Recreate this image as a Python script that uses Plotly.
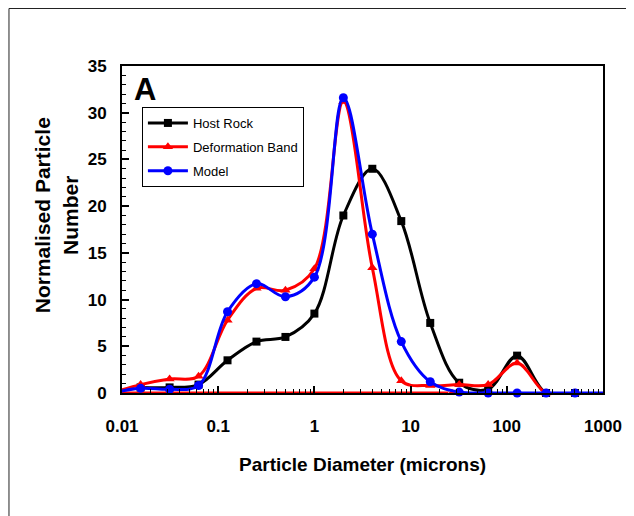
import plotly.graph_objects as go

# Data (phi-class particle diameters, microns)
diam = [0.0078, 0.0156, 0.03125, 0.0625, 0.125, 0.25, 0.5, 1, 2, 4, 8, 16, 32, 64, 128, 256, 512]
host_rock = [None, 0.6, 0.6, 0.9, 3.5, 5.5, 6.0, 8.5, 19.0, 24.0, 18.4, 7.5, 1.1, 0.4, 4.0, 0.0, 0.0]
deformation_band = [0.0, 0.9, 1.5, 1.8, 7.8, 11.2, 11.0, 13.3, 31.2, 13.4, 1.3, 0.8, 0.9, 0.9, 3.2, 0.0, 0.0]
model = [0.0, 0.5, 0.4, 0.8, 8.7, 11.7, 10.3, 12.4, 31.6, 17.0, 5.5, 1.2, 0.1, 0.0, 0.0, 0.0, 0.0]

# Zero-level artefact lines drawn along the axis in the original
red_base_x = [0.0078, 27, 32]
red_base_y = [0, 0, 0]
blue_base_x = [512, 1400]
blue_base_y = [0, 0]

x_ticks = [0.01, 0.1, 1, 10, 100, 1000]
x_ticklabels = ["0.01", "0.1", "1", "10", "100", "1000"]

FONT = "Arial, Liberation Sans, sans-serif"

fig = go.Figure()

fig.add_trace(go.Scatter(
    x=red_base_x, y=red_base_y, mode="lines+markers", showlegend=False,
    line=dict(color="#ff0000", width=3),
    marker=dict(symbol=["triangle-up-open", "triangle-up", "triangle-up"], size=[1, 10, 10], color="#ff0000"),
    cliponaxis=False, hoverinfo="skip"))

fig.add_trace(go.Scatter(
    x=blue_base_x, y=blue_base_y, mode="lines", showlegend=False,
    line=dict(color="#0000ff", width=3), hoverinfo="skip"))

fig.add_trace(go.Scatter(
    x=diam, y=host_rock, name="Host Rock", mode="lines+markers",
    line=dict(color="#000000", width=3, shape="spline", smoothing=1),
    marker=dict(symbol="square", size=8, color="#000000"),
    connectgaps=False, cliponaxis=False, legendgroup="a"))

fig.add_trace(go.Scatter(
    x=diam, y=deformation_band, name="Deformation Band", mode="lines+markers",
    line=dict(color="#ff0000", width=3, shape="spline", smoothing=1),
    marker=dict(symbol="triangle-up", size=9, color="#ff0000"),
    cliponaxis=False, legendgroup="b"))

fig.add_trace(go.Scatter(
    x=diam, y=model, name="Model", mode="lines+markers",
    line=dict(color="#0000ff", width=3, shape="spline", smoothing=1),
    marker=dict(symbol="circle", size=9, color="#0000ff"),
    cliponaxis=False, legendgroup="c"))

# page body has an 8px margin; target positions below are browser pixels
OFF = 8
W, H = 634 - OFF, 516 - OFF
ml, mr, mt, mb = 122 - OFF, 634 - 605, 66 - OFF, 516 - 393
pw, ph = W - ml - mr, H - mt - mb


def px_x(p):
    return (p - OFF - ml) / pw


def px_y(p):
    return (H - mb - (p - OFF)) / ph


fig.update_layout(
    width=W, height=H,
    margin=dict(l=ml, r=mr, t=mt, b=mb, pad=0),
    paper_bgcolor="white", plot_bgcolor="white",
    font=dict(family=FONT, color="black"),
    showlegend=True,
    legend=dict(
        x=px_x(142), y=px_y(107), xanchor="left", yanchor="top",
        bgcolor="white", bordercolor="#000000", borderwidth=1,
        font=dict(family=FONT, size=13, color="black"),
        traceorder="grouped", tracegroupgap=4,
        itemwidth=40,
    ),
    xaxis=dict(
        type="log", range=[-2, 3],
        tickvals=x_ticks, ticktext=x_ticklabels,
        ticks="inside", ticklen=7, tickwidth=1.5, tickcolor="black",
        minor=dict(ticks="inside", ticklen=4, tickwidth=1, tickcolor="black", dtick="D1"),
        showgrid=False, zeroline=False,
        showline=True, mirror=True, linecolor="black", linewidth=2,
        tickfont=dict(family=FONT, size=17, color="black", weight="bold"),
        ticklabelstandoff=17,
    ),
    yaxis=dict(
        range=[0, 35], dtick=5, tick0=0,
        ticks="inside", ticklen=7, tickwidth=1.5, tickcolor="black",
        minor=dict(ticks="inside", ticklen=4, tickwidth=1, tickcolor="black", dtick=1),
        showgrid=False, zeroline=False,
        showline=True, mirror=True, linecolor="black", linewidth=2,
        tickfont=dict(family=FONT, size=17, color="black", weight="bold"),
        ticklabelstandoff=10,
    ),
    annotations=[
        dict(text="<b>A</b>", xref="paper", yref="paper",
             x=px_x(132), y=px_y(70), xanchor="left", yanchor="top",
             showarrow=False, font=dict(family=FONT, size=31, color="black")),
        dict(text="<b>Particle Diameter (microns)</b>", xref="paper", yref="paper",
             x=px_x(364), y=px_y(464), xanchor="center", yanchor="middle",
             showarrow=False, font=dict(family=FONT, size=19, color="black")),
        dict(text="<b>Normalised Particle<br>Number</b>", xref="paper", yref="paper",
             x=px_x(56), y=px_y(215), xanchor="center", yanchor="middle", textangle=-90,
             showarrow=False, font=dict(family=FONT, size=21, color="black")),
    ],
    shapes=[dict(
        type="rect", xref="paper", yref="paper",
        x0=px_x(OFF + 0.5), x1=px_x(700), y0=px_y(560), y1=px_y(8.5),
        line=dict(color="#222222", width=1), layer="below")],
)

fig.write_html("out.html")
